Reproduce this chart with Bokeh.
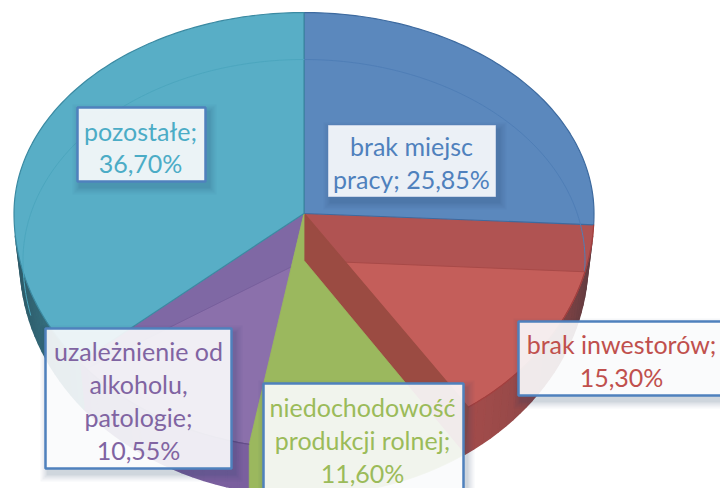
import numpy as np
from bokeh.plotting import figure
from bokeh.core.properties import value
from bokeh.embed import file_html
from bokeh.resources import INLINE

# Data
categories = ["brak miejsc pracy", "brak inwestorów", "niedochodowość produkcji rolnej",
              "uzależnienie od alkoholu, patologie", "pozostałe"]
shares = [25.85, 15.30, 11.60, 10.55, 36.70]
label_lines = [["brak miejsc", "pracy; 25,85%"], ["brak inwestorów;", "15,30%"],
               ["niedochodowość", "produkcji rolnej;", "11,60%"],
               ["uzależnienie od", "alkoholu,", "patologie;", "10,55%"],
               ["pozostałe;", "36,70%"]]

# Styles
text_colors = ["#4f81bd", "#c0504d", "#9bbb59", "#8064a2", "#4bacc6"]
top_colors = ["#5b88bd", "#b05352", "#9bb85e", "#7f68a4", "#58aec6"]
floor_colors = ["#5b88bd", "#c45e5a", "#9bb85e", "#8b70ab", "#58aec6"]
rim_colors = ["#3d6a9f", "#a23f3e", "#7f9c45", "#654d88", "#3b8aa2"]
ring_colors = ["#4f7eb6", "#a84a48", "#8aa850", "#775f9c", "#4ca6be"]
wall_front = ["#4a6f9c", "#a84d4b", "#8fae55", "#7a5f9e", "#3f8596"]
wall_side = ["#2f4f75", "#5f3b40", "#6f8a42", "#4f3f70", "#2d5a68"]
cut_color = "#9b4b42"

CX, CY, DEPTH = 303.5, 213.0, 47.0
RX, RY_UP, RY_LO = 290.0, 201.0, 235.0
RX_FLOOR, RX_WALL = 281.0, 284.0

ends = np.cumsum(shares) / 100 * 360
starts = np.concatenate([[0], ends[:-1]])


def warp(t):
    t = np.asarray(t, dtype=float)
    return np.where((t > 90) & (t < 270), t + 2.9 * np.sin(np.radians(2 * (t - 180))), t)


def cx_of(rx, r):
    return CX + rx * np.sin(r)


def rim(t, rx=RX, cy=CY):
    r = np.radians(warp(t))
    c = np.cos(r)
    return cx_of(rx, r), cy - np.where(c > 0, RY_UP * c, RY_LO * c)


def arc(a, b, step=1.0):
    return np.linspace(a, b, max(int(abs(b - a) / step), 2))


def lim_y(x):
    return CY + RY_LO * np.sqrt(np.clip(1 - ((x - CX) / RX) ** 2, 0, 1))


def mix(c1, c2, f):
    a = [int(c1[i:i + 2], 16) for i in (1, 3, 5)]
    b = [int(c2[i:i + 2], 16) for i in (1, 3, 5)]
    return "#%02x%02x%02x" % tuple(int(round(x + (y - x) * f)) for x, y in zip(a, b))


p = figure(width=720, height=488, x_range=(0, 720), y_range=(488, 0),
           toolbar_location=None, output_backend="svg", min_border=0, outline_line_color=None)
p.axis.visible = False
p.grid.visible = False
p.background_fill_color = "white"
p.border_fill_color = "white"

# outer walls (front half)
for i in range(5):
    a, b = max(starts[i], 96), min(ends[i], 264)
    if a >= b or i == 2:
        continue
    ts = arc(a, b, 2.0)
    for t0, t1 in zip(ts[:-1], ts[1:]):
        x0, y0 = rim(t0)
        x1, y1 = rim(t1)
        x2, y2 = rim(t1, RX_WALL, CY + DEPTH)
        x3, y3 = rim(t0, RX_WALL, CY + DEPTH)
        f = abs(np.sin(np.radians((t0 + t1) / 2))) ** 4
        col = mix(wall_front[i], wall_side[i], f)
        p.patch([x0, x1, x2, x3], [y0, y1, y2, y3], fill_color=col, line_color=col, line_width=1.5)

# translucent top sectors of red and purple
for i in (1, 3):
    ts = arc(starts[i], ends[i])
    x, y = rim(ts)
    p.patch(np.r_[CX, x], np.r_[CY, y], fill_color=top_colors[i], line_color=top_colors[i])

# floor sectors seen through the top
for i in (1, 3):
    ts = arc(starts[i], ends[i])
    x, y = rim(ts, RX_FLOOR, CY + DEPTH)
    y = np.minimum(y, lim_y(x))
    p.patch(np.r_[CX, x], np.r_[CY + DEPTH, y], fill_color=floor_colors[i], line_color=ring_colors[i], line_width=1)

# red cut face
xe, ye = rim(np.array([ends[1]]))
xw, yw = rim(np.array([ends[1]]), RX_WALL, CY + DEPTH)
p.patch([CX, xe[0], xw[0], CX], [CY, ye[0], yw[0], CY + DEPTH], fill_color=cut_color, line_color=cut_color, line_width=1.5)

# green slice including its front wall
ts = arc(starts[2], ends[2])
xb, yb = rim(ts, RX_WALL, CY + DEPTH)
xl, yl = rim(np.array([ends[2]]))
p.patch(np.r_[CX, xl, xl, xb[::-1], CX], np.r_[CY, yl, yl + DEPTH, yb[::-1], CY + DEPTH],
        fill_color=top_colors[2], line_color=top_colors[2], line_width=0.8)

# blue and teal top sectors
for i in (0, 4):
    ts = arc(starts[i], ends[i])
    x, y = rim(ts)
    p.patch(np.r_[CX, x], np.r_[CY, y], fill_color=top_colors[i], line_color=rim_colors[i], line_width=1.2)

# rings and rims
for i in (0, 4):
    a = starts[i] if i == 0 else 255
    x, y = rim(arc(a, ends[i]), RX_FLOOR, CY + DEPTH)
    p.line(x, y, line_color=ring_colors[i], line_width=1)
for i in (1, 3):
    x, y = rim(arc(starts[i], ends[i]))
    p.line(x, y, line_color=rim_colors[i], line_width=1.2)

# labels
box_left = [328, 518, 263, 45, 77]
box_right = [495, 724, 463, 231, 205]
box_top = [125, 321, 383, 328, 107]
box_bottom = [196, 395, 492, 468, 181]
text_x = [411, 621, 362, 138, 140]
first_line_y = [145, 343, 406, 350, 130]
line_step = [33, 33, 33, 33, 32]
border_colors = ["#c8d4e8", "#4f81bd", "#4f81bd", "#4f81bd", "#4f81bd"]
border_widths = [1, 2.5, 2.5, 2.5, 2.5]
FONT_SIZE = "25px"

for i in range(5):
    l, r, t, b = box_left[i], box_right[i], box_top[i], box_bottom[i]
    for k, (grow, al) in enumerate([(8, 0.04), (6, 0.05), (4, 0.06), (2, 0.08)]):
        p.quad(left=l - grow + 3, right=r + grow + 3, top=t - grow + 5, bottom=b + grow + 5,
               fill_color="#1f3f66", fill_alpha=al, line_color=None)
    p.quad(left=l, right=r, top=t, bottom=b, fill_color="white", fill_alpha=0.89,
           line_color=border_colors[i], line_width=border_widths[i])
    for j, s in enumerate(label_lines[i]):
        p.text(x=[text_x[i]], y=[first_line_y[i] + j * line_step[i]], text=[s],
               text_color=text_colors[i], text_font=value("Lato"), text_font_size=value(FONT_SIZE),
               text_align="center", text_baseline="middle")

open("out.html", "w").write(file_html(p, INLINE))
